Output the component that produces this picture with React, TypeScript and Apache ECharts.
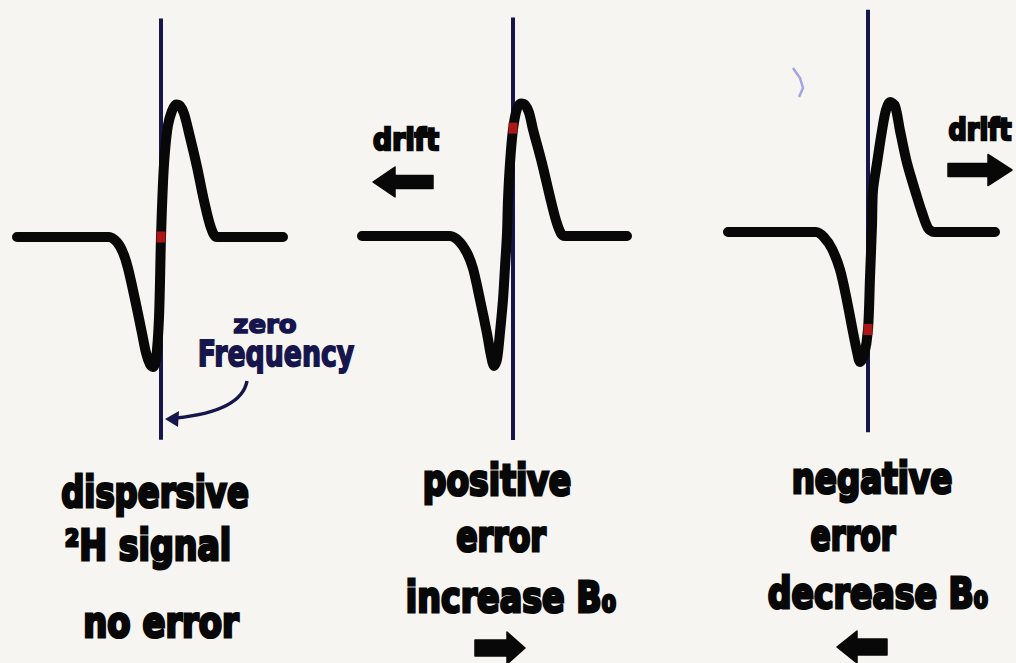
import React, { useEffect, useRef } from "react";
import * as echarts from "echarts";

// ---------- DATA (frequency offset from zero frequency, normalised amplitude) ----------
const panelNames = ["no error", "positive error", "negative error"];

const signalNoError: [number, number][] = [
  [-144, 0], [-52, 0], [-44, -0.04], [-38, -0.12], [-33, -0.24], [-26, -0.48],
  [-19, -0.74], [-15, -0.89], [-11, -0.98], [-8, -1.0], [-5, -0.94], [-2, -0.62],
  [0, 0], [2, 0.42], [4, 0.66], [7, 0.86], [11, 0.97], [15, 1.02], [19, 1.01],
  [23, 0.95], [28, 0.8], [36, 0.54], [43, 0.28], [50, 0.07], [56, 0], [122, 0],
];

const signalPositiveError: [number, number][] = [
  [-151, 0], [-63, 0], [-54, -0.04], [-46, -0.13], [-40, -0.25], [-33, -0.49],
  [-26, -0.75], [-22, -0.92], [-19, -1.0], [-16, -0.95], [-13, -0.74], [-10, -0.49],
  [-8, -0.24], [-6, 0.02], [-5, 0.28], [-3, 0.56], [0, 0.82], [4, 0.98], [8, 1.02],
  [12, 1.01], [16, 0.95], [20, 0.82], [29, 0.56], [37, 0.3], [43, 0.12], [48, 0.02],
  [52, 0], [114, 0],
];

const signalNegativeError: [number, number][] = [
  [-140, 0], [-52, 0], [-44, -0.04], [-36, -0.13], [-28, -0.29], [-21, -0.53],
  [-15, -0.77], [-11, -0.92], [-8, -1.0], [-4, -0.95], [0, -0.75], [2, -0.35],
  [4, 0.05], [5, 0.32], [9, 0.53], [14, 0.78], [18, 0.94], [22, 1.0], [27, 0.97],
  [32, 0.78], [39, 0.53], [49, 0.27], [54, 0.15], [60, 0.03], [66, 0], [127, 0],
];

const signals = [signalNoError, signalPositiveError, signalNegativeError];

// amplitude at which the signal meets the zero-frequency line (red marker)
const zeroFrequencyAmplitude = [0, 0.83, -0.75];
// extent of the zero-frequency line
const zeroLineTop = [1.68, 1.68, 1.71];
const zeroLineBottom = [-1.56, -1.57, -1.54];

const captionTexts = [
  ["dispersive", "²H signal", "no error"],
  ["positive", "error", "increase B₀"],
  ["negative", "error", "decrease B₀"],
];
const driftText = "drift";
const zeroFrequencyText = ["zero", "Frequency"];

// ---------- LAYOUT ----------
const W = 1016;
const H = 663;
const PANEL_ZERO_X = [161, 513, 868];
const PANEL_BASELINE_Y = [237, 236, 232];
const AMP_PX = 130;
const F_MIN = -160;
const F_MAX = 140;
const A_MIN = -1.6;
const A_MAX = 1.75;

const INK = "#080808";
const NAVY = "#16164c";
const RED = "#d41c1c";
const BG = "#f7f5f2";

type Label = { text: string; cx: number; base: number; width: number; size: number; color: string; weight: number };

const captionLayout = [
  [
    { cx: 155, base: 507, width: 190 },
    { cx: 148, base: 560, width: 169 },
    { cx: 161, base: 637, width: 158 },
  ],
  [
    { cx: 497, base: 495, width: 151 },
    { cx: 501, base: 552, width: 92 },
    { cx: 511, base: 612, width: 213 },
  ],
  [
    { cx: 872, base: 493, width: 163 },
    { cx: 853, base: 550, width: 87 },
    { cx: 878, base: 608, width: 223 },
  ],
];

function measure(text: string, font: string): number {
  const c = document.createElement("canvas");
  const ctx = c.getContext("2d");
  if (!ctx) return text.length * 20;
  ctx.font = font;
  return ctx.measureText(text).width;
}

function textEl(l: Label) {
  const font = `bold ${l.size}px "DejaVu Sans"`;
  const w = measure(l.text, font) + l.weight;
  const sx = w > 0 ? l.width / w : 1;
  return {
    type: "text",
    x: l.cx,
    y: l.base - 0.35 * l.size,
    scaleX: sx,
    z: 10,
    style: {
      text: l.text,
      fill: l.color,
      font,
      textAlign: "center",
      textVerticalAlign: "middle",
      verticalAlign: "middle",
      stroke: l.color,
      lineWidth: l.weight,
      lineJoin: "round",
    },
  };
}

function arrow(tipX: number, cy: number, dir: number, headLen: number, headH: number, shaftLen: number, shaftH: number, color: string) {
  const hb = tipX - dir * headLen;
  const se = hb - dir * shaftLen;
  return {
    type: "polygon",
    z: 10,
    shape: {
      points: [
        [tipX, cy],
        [hb, cy - headH / 2],
        [hb, cy - shaftH / 2],
        [se, cy - shaftH / 2],
        [se, cy + shaftH / 2],
        [hb, cy + shaftH / 2],
        [hb, cy + headH / 2],
      ],
    },
    style: { fill: color, stroke: color, lineWidth: 1.5, lineJoin: "round" },
  };
}

export default function App() {
  const ref = useRef<HTMLDivElement>(null);

  useEffect(() => {
    document.body.style.margin = "0";
    if (!ref.current) return;
    const chart = echarts.init(ref.current, undefined, { renderer: "svg" });

    const grids = PANEL_ZERO_X.map((zx, i) => ({
      left: zx + F_MIN,
      top: PANEL_BASELINE_Y[i] - A_MAX * AMP_PX,
      width: F_MAX - F_MIN,
      height: (A_MAX - A_MIN) * AMP_PX,
      containLabel: false,
    }));
    const xAxes = grids.map((_, i) => ({
      type: "value", gridIndex: i, min: F_MIN, max: F_MAX, show: false,
    }));
    const yAxes = grids.map((_, i) => ({
      type: "value", gridIndex: i, min: A_MIN, max: A_MAX, show: false,
    }));

    const series: any[] = [];
    signals.forEach((sig, i) => {
      series.push({
        name: panelNames[i] + " zero frequency",
        type: "line",
        xAxisIndex: i,
        yAxisIndex: i,
        data: [[0, zeroLineTop[i]], [0, zeroLineBottom[i]]],
        showSymbol: false,
        lineStyle: { color: NAVY, width: 4 },
        z: 2,
        silent: true,
      });
      series.push({
        name: panelNames[i],
        type: "line",
        xAxisIndex: i,
        yAxisIndex: i,
        data: sig,
        smooth: 0.3,
        showSymbol: false,
        lineStyle: { color: INK, width: 10, cap: "round", join: "round" },
        z: 3,
        silent: true,
      });
      series.push({
        name: panelNames[i] + " marker",
        type: "scatter",
        xAxisIndex: i,
        yAxisIndex: i,
        data: [[0, zeroFrequencyAmplitude[i]]],
        symbol: "rect",
        symbolSize: [9, 11],
        itemStyle: { color: RED },
        z: 4,
        silent: true,
      });
    });

    const labels: Label[] = [];
    captionTexts.forEach((lines, p) =>
      lines.forEach((t, k) =>
        labels.push({ text: t, ...captionLayout[p][k], size: 42, color: INK, weight: 3 })
      )
    );
    labels.push({ text: driftText, cx: 406, base: 150, width: 68, size: 30, color: INK, weight: 2.5 });
    labels.push({ text: driftText, cx: 980, base: 140, width: 65, size: 30, color: INK, weight: 2.5 });
    labels.push({ text: zeroFrequencyText[0], cx: 265, base: 333, width: 65, size: 24, color: NAVY, weight: 1.5 });
    labels.push({ text: zeroFrequencyText[1], cx: 276, base: 366, width: 158, size: 36, color: NAVY, weight: 1.8 });

    const graphic: any[] = labels.map(textEl);
    graphic.push(arrow(373, 182, -1, 22, 30, 38, 13, INK));
    graphic.push(arrow(1012, 170, 1, 24, 31, 40, 13, INK));
    graphic.push(arrow(525, 648, 1, 18, 32, 32, 16, INK));
    graphic.push(arrow(837, 647, -1, 20, 32, 30, 16, INK));
    graphic.push({
      type: "bezierCurve",
      z: 10,
      shape: { x1: 247, y1: 381, cpx1: 243, cpy1: 403, cpx2: 215, cpy2: 414, x2: 176, y2: 418 },
      style: { stroke: NAVY, lineWidth: 3.5, fill: null },
    });
    graphic.push({
      type: "polygon",
      z: 10,
      shape: { points: [[165, 419], [179, 411], [178, 427]] },
      style: { fill: NAVY },
    });
    graphic.push({
      type: "polyline",
      z: 10,
      shape: { points: [[793, 68], [800, 78], [803, 88], [799, 97]] },
      style: { stroke: "#8080dd", lineWidth: 2.5, opacity: 0.7 },
    });

    chart.setOption({
      animation: false,
      backgroundColor: BG,
      grid: grids,
      xAxis: xAxes,
      yAxis: yAxes,
      series,
      graphic,
    });

    return () => chart.dispose();
  }, []);

  return (
    <div
      ref={ref}
      style={{ position: "absolute", left: 0, top: 0, width: W, height: H }}
    />
  );
}
